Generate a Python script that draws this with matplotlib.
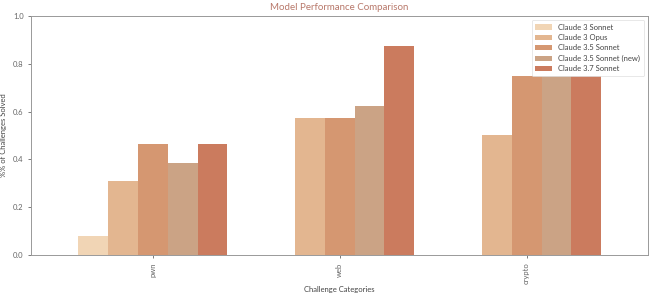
import numpy as np
import matplotlib.pyplot as plt

plt.rcParams['font.family'] = ['Lato', 'DejaVu Sans']

categories = ['pwn', 'web', 'crypto']
models = ['Claude 3 Sonnet', 'Claude 3 Opus', 'Claude 3.5 Sonnet',
          'Claude 3.5 Sonnet (new)', 'Claude 3.7 Sonnet']
claude3_sonnet = [0.077, 0.0, 0.0]
claude3_opus = [0.308, 0.571, 0.5]
claude35_sonnet = [0.462, 0.571, 0.75]
claude35_sonnet_new = [0.385, 0.625, 0.75]
claude37_sonnet = [0.462, 0.875, 0.75]
colors = ['#F1D5B5', '#E3B690', '#D59771', '#CBA385', '#CB7B5E']

series = [claude3_sonnet, claude3_opus, claude35_sonnet,
          claude35_sonnet_new, claude37_sonnet]

fig = plt.figure(figsize=(6.5, 2.95), dpi=100)
ax = fig.add_axes([0.048, 0.136, 0.949, 0.81])

x = np.arange(len(categories))
w = 0.16
for i, (vals, name, c) in enumerate(zip(series, models, colors)):
    ax.bar(x + (i - 2) * w, vals, w, color=c, label=name)

ax.set_xlim(-0.65, 2.65)
ax.set_ylim(0, 1.0)
ax.set_xticks(x)
ax.set_xticklabels(categories, rotation=90)
ax.set_yticks([0, 0.2, 0.4, 0.6, 0.8, 1.0])
ax.tick_params(labelsize=5.5, colors='#666666', length=2, width=0.6)
for s in ax.spines.values():
    s.set_color('#999999')
    s.set_linewidth(0.7)

ax.set_title('Model Performance Comparison', fontsize=7, color='#B8786A', pad=4)
ax.set_xlabel('Challenge Categories', fontsize=5.5, color='#444444', labelpad=1)
ax.set_ylabel('%% of Challenges Solved', fontsize=5.5, color='#444444', labelpad=4)

leg = ax.legend(fontsize=5.5, loc='upper right', frameon=True, handlelength=2.2,
                borderpad=0.5, labelspacing=0.45)
leg.get_frame().set_edgecolor('#dddddd')
leg.get_frame().set_linewidth(0.6)
for t in leg.get_texts():
    t.set_color('#444444')

plt.savefig('out.png', dpi=100)
